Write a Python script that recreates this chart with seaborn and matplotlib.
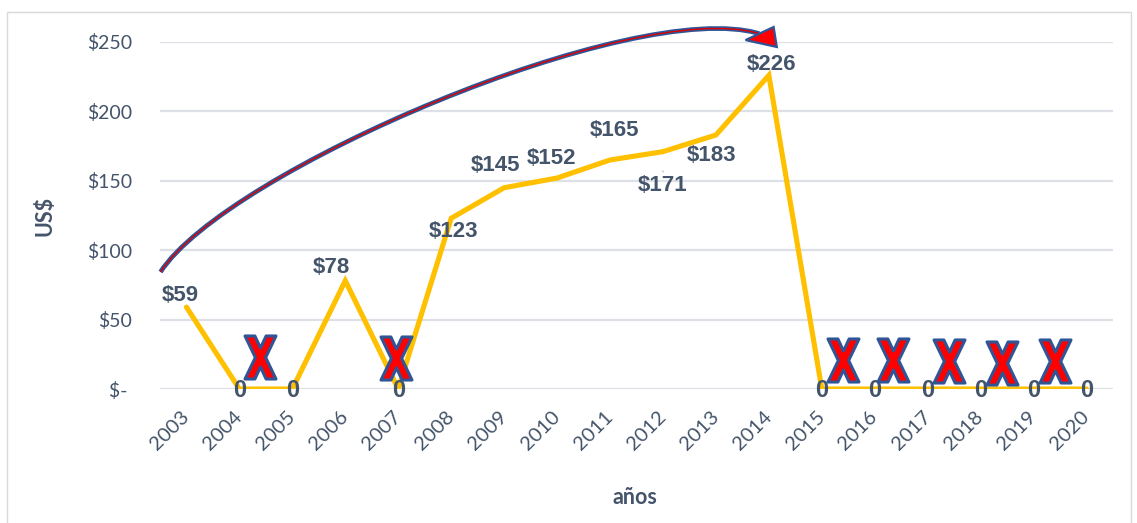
import numpy as np
import pandas as pd
import seaborn as sns
import matplotlib.pyplot as plt
from matplotlib.patches import PathPatch, Polygon, Rectangle
from matplotlib.path import Path

# data
years = ['2003', '2004', '2005', '2006', '2007', '2008', '2009', '2010', '2011',
         '2012', '2013', '2014', '2015', '2016', '2017', '2018', '2019', '2020']
values = [59, 0, 0, 78, 0, 123, 145, 152, 165, 171, 183, 226, 0, 0, 0, 0, 0, 0]
y_ticks = [0, 50, 100, 150, 200, 250]
y_tick_labels = ['$- ', '$50', '$100', '$150', '$200', '$250']

# label offsets (pixels) for each data label
label_offsets = [(-6, 12), (0, -1), (0, -1), (-14, 13), (0, -1), (2, -13), (-9, 22),
                 (-6, 20), (4, 29), (0, -34), (-4, -21), (3, 11),
                 (0, -1), (0, -1), (0, -1), (0, -1), (0, -1), (0, -1)]
# red crosses (category position, height)
cross_x = [1.38, 3.96, 12.4, 13.35, 14.4, 15.4, 16.4]
cross_y = [23, 22, 21, 21, 20, 19, 20]

sns.set_theme(style="white")
plt.rcParams['font.family'] = ['Lato', 'DejaVu Sans']
bold_font = ['Liberation Sans Narrow', 'Liberation Sans', 'DejaVu Sans']

slate = '#44546A'
df = pd.DataFrame({'idx': np.arange(len(years)), 'val': values})

fig = plt.figure(figsize=(11.37, 5.23), dpi=100)
ax = fig.add_axes([0.1407, 0.2562, 0.8382, 0.6635])

sns.lineplot(data=df, x='idx', y='val', ax=ax, color='#FFC000', lw=3.7,
             solid_joinstyle='miter', zorder=3)

ax.set_xlim(-0.5, len(years) - 0.5)
ax.set_ylim(0, 250)
ax.set_yticks(y_ticks)
ax.set_yticklabels(y_tick_labels)
ax.set_xticks(np.arange(len(years)))
ax.set_xticklabels(years, rotation=45, ha='right', va='center', rotation_mode='anchor')
ax.tick_params(axis='y', length=0, pad=20, labelsize=14, labelcolor=slate)
ax.tick_params(axis='x', length=0, pad=18, labelsize=14.5, labelcolor=slate)
ax.grid(axis='y', color='#DDE1E7', lw=1.6, zorder=0)
for s in ax.spines.values():
    s.set_visible(False)

ax.set_xlabel('años', fontsize=15.5, fontweight='bold', color=slate)
ax.set_ylabel('US$', fontsize=15.5, fontweight='bold', color=slate)
ax.xaxis.set_label_coords(0.498, -0.282)
ax.yaxis.set_label_coords(-0.110, 0.5)

# data labels
for i, v in enumerate(values):
    txt = '0' if v == 0 else f'${v}'
    dx, dy = label_offsets[i]
    kw = {}
    if years[i] == '2012':
        kw['arrowprops'] = dict(arrowstyle='-', color='#BFBFBF', lw=1,
                                shrinkA=0, shrinkB=14)
    ax.annotate(txt, (i, v), xytext=(dx, dy), textcoords='offset pixels',
                ha='center', va='center', fontsize=17 if v == 0 else 16,
                fontweight='bold', color=slate, family=bold_font, zorder=5, **kw)

# red crosses
x_shape = Path([(-0.36, 0.5), (-0.13, 0.5), (0, 0.22), (0.13, 0.5), (0.36, 0.5),
                (0.12, 0.0), (0.36, -0.5), (0.13, -0.5), (0, -0.22), (-0.13, -0.5),
                (-0.36, -0.5), (-0.12, 0.0), (-0.36, 0.5)], closed=True)
ax.scatter(cross_x, cross_y, marker=x_shape, s=31 ** 2, facecolor='#FF0000',
           edgecolor='#2F5597', linewidths=2.2, zorder=6)

# curved arrow: body (cubic bezier) + head, in data coords
arc = Path([(-0.49, 84.3), (0.74, 157), (8.46, 283), (10.82, 256)],
           [Path.MOVETO, Path.CURVE4, Path.CURVE4, Path.CURVE4])
ax.add_patch(PathPatch(arc, fill=False, edgecolor='#2F5597', lw=3.4,
                       capstyle='butt', clip_on=False, zorder=7))
ax.add_patch(PathPatch(arc, fill=False, edgecolor='#E00000', lw=1.0,
                       capstyle='butt', clip_on=False, zorder=7))
ax.add_patch(Polygon([(10.56, 251.4), (11.09, 260.8), (11.15, 246.4)], closed=True,
                     facecolor='#FF0000', edgecolor='#2F5597', lw=1.6,
                     joinstyle='miter', clip_on=False, zorder=8))

fig.add_artist(Rectangle((0.006, -0.01), 0.989, 0.987, transform=fig.transFigure,
                         fill=False, edgecolor='#D9D9D9', lw=1))

fig.savefig('out.png', dpi=100)
